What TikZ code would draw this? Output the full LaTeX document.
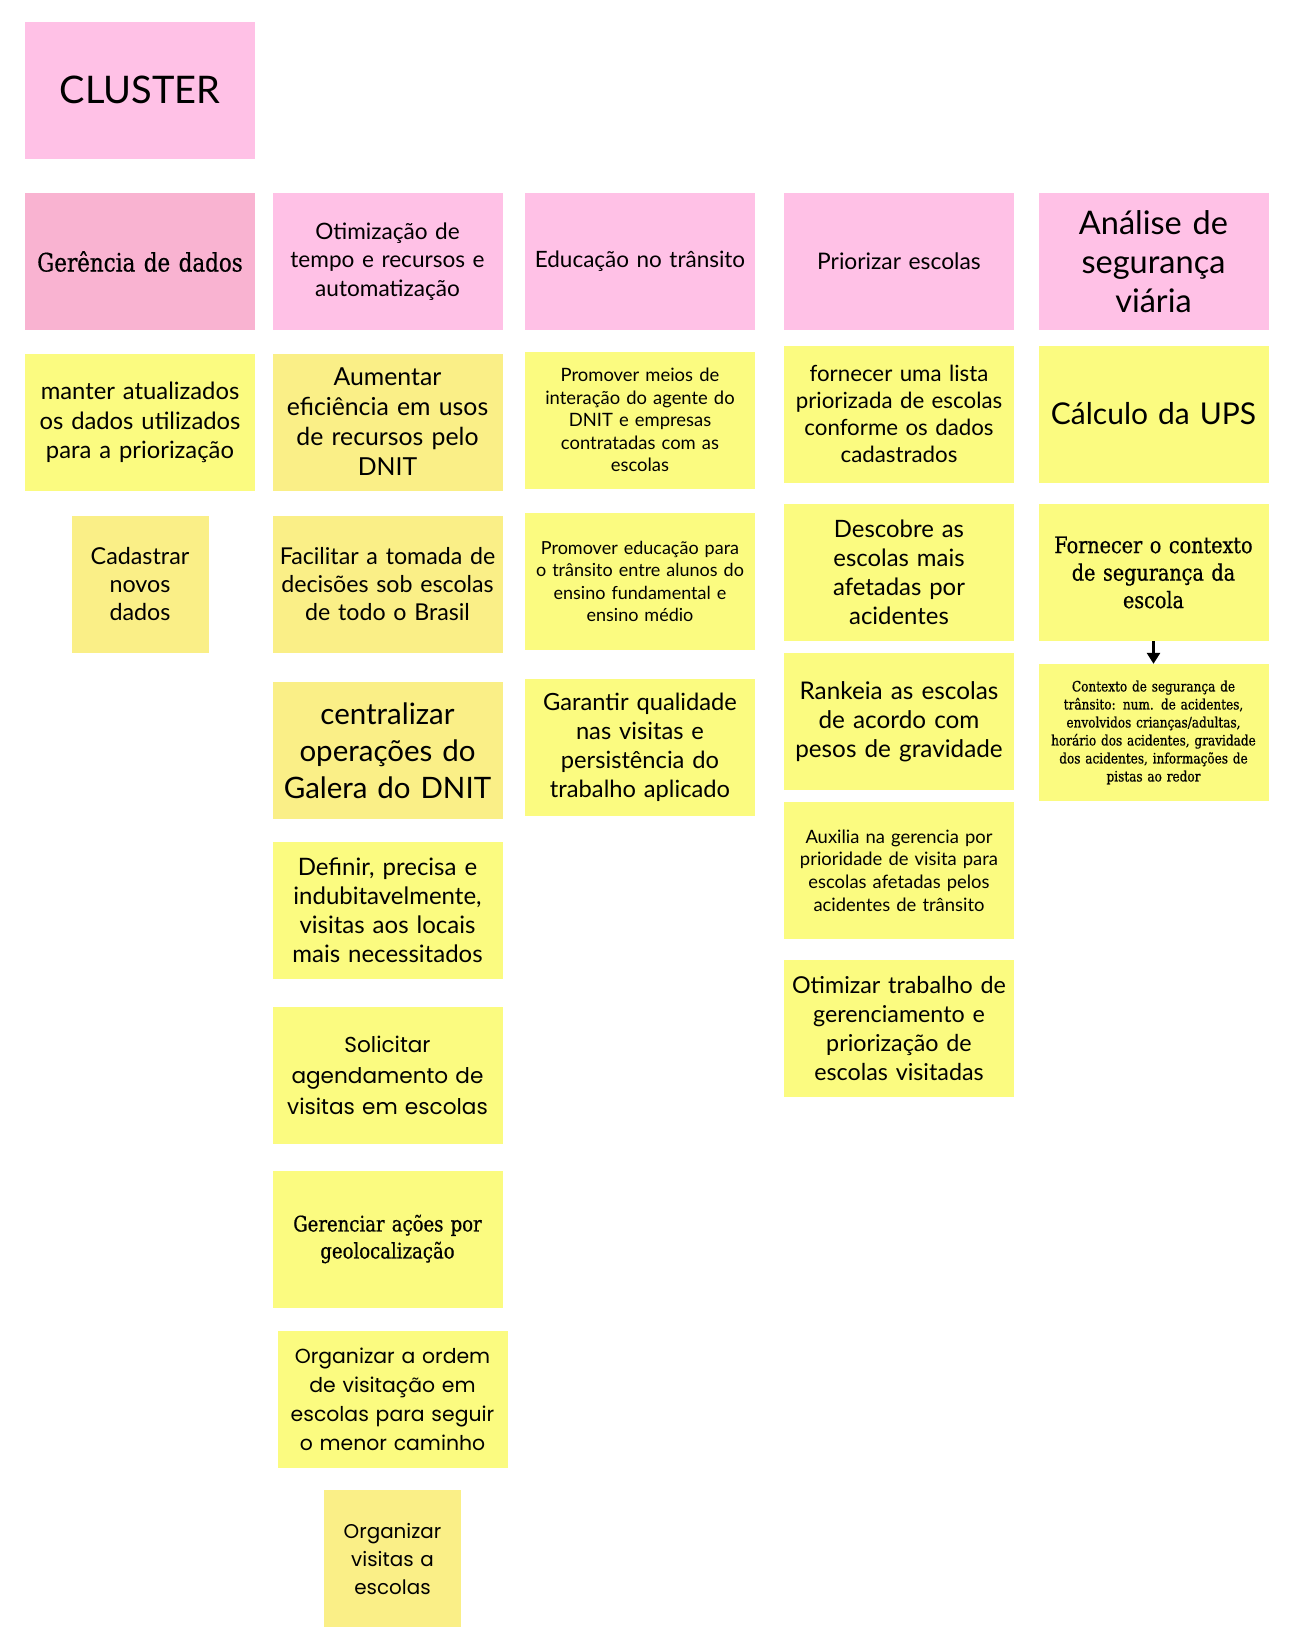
\documentclass[tikz,border=0pt]{standalone}
\usepackage{fontspec}
\setmainfont{Lato}
\newfontfamily\slabfont[FakeStretch=0.84, FakeBold=0.6]{DejaVu Serif}
\newfontfamily\widefont{Poppins}
\usetikzlibrary{arrows.meta}

\definecolor{headpink}{HTML}{FFC1E6}
\definecolor{datapink}{HTML}{F9B3D1}
\definecolor{notebright}{HTML}{FBFB80}
\definecolor{notemuted}{HTML}{FAEF87}

\tikzset{
  card/.style={rectangle, inner sep=0pt, align=center,
    minimum width=230pt, minimum height=137pt, text width=226pt},
  header/.style={card, fill=headpink},
  sticky/.style={card, fill=notebright},
  mutedsticky/.style={card, fill=notemuted},
  smallcard/.style={minimum width=137pt, text width=134pt}
}

\begin{document}
\begin{tikzpicture}[x=1pt, y=-1pt]
  \useasboundingbox[fill=white] (0,0) rectangle (1298,1650);

  % Title card
  \node[header, font=\fontsize{38}{44}\selectfont] (cluster) at (140,90) {CLUSTER};

  % Column headers
  \node[header, fill=datapink, font=\slabfont\fontsize{25.5}{30}\selectfont] (dados) at (140,261.5) {Gerência de dados};
  \node[header, font=\fontsize{22.6}{28.5}\selectfont] (otimiz) at (387.5,261.5) {Otimização de\\tempo e recursos e\\automatização};
  \node[header, font=\fontsize{22.5}{28}\selectfont] (educ) at (640,261.5) {Educação no trânsito};
  \node[header, font=\fontsize{22.8}{28}\selectfont] (prior) at (899,261.5) {Priorizar escolas};
  \node[header, font=\fontsize{32.5}{39}\selectfont] (analise) at (1153.5,261.5) {Análise de\\segurança\\viária};

  % 1. Gerencia de dados
  \node[sticky, font=\fontsize{23.8}{29.5}\selectfont] (manter) at (140,422.5) {manter atualizados\\os dados utilizados\\para a priorização};
  \node[mutedsticky, smallcard, font=\fontsize{23.3}{28}\selectfont] (cadastrar) at (140,584.5) {Cadastrar\\novos\\dados};

  % 2. Otimizacao de tempo e recursos
  \node[mutedsticky, font=\fontsize{24.8}{30}\selectfont] (aumentar) at (387.5,422) {Aumentar\\eficiência em usos\\de recursos pelo\\DNIT};
  \node[mutedsticky, font=\fontsize{23.2}{28}\selectfont] (facilitar) at (387.5,584.5) {Facilitar a tomada de\\decisões sob escolas\\de todo o Brasil};
  \node[mutedsticky, font=\fontsize{29.5}{37}\selectfont] (centralizar) at (387.5,750.5) {centralizar\\operações do\\Galera do DNIT};
  \node[sticky, font=\fontsize{24}{29}\selectfont] (definir) at (387.5,910.5) {Definir, precisa e\\indubitavelmente,\\visitas aos locais\\mais necessitados};
  \node[sticky, font=\widefont\fontsize{21.6}{31}\selectfont] (solicitar) at (387.5,1075.5) {Solicitar\\agendamento de\\visitas em escolas};
  \node[sticky, font=\slabfont\fontsize{21.5}{27}\selectfont] (gerenciar) at (387.5,1239) {Gerenciar ações por\\geolocalização};
  \node[sticky, font=\widefont\fontsize{20.4}{29}\selectfont] (ordem) at (392.5,1399) {Organizar a ordem\\de visitação em\\escolas para seguir\\o menor caminho};
  \node[mutedsticky, smallcard, font=\widefont\fontsize{19.9}{28}\selectfont] (visitas) at (392.5,1558.5) {Organizar\\visitas a\\escolas};

  % 3. Educacao no transito
  \node[sticky, font=\fontsize{18.4}{22.6}\selectfont] (interacao) at (640,420) {Promover meios de\\interação do agente do\\DNIT e empresas\\contratadas com as\\escolas};
  \node[sticky, font=\fontsize{18}{22.6}\selectfont] (promover) at (640,581.5) {Promover educação para\\o trânsito entre alunos do\\ensino fundamental e\\ensino médio};
  \node[sticky, font=\fontsize{23.7}{29}\selectfont] (garantir) at (640,747.5) {Garantir qualidade\\nas visitas e\\persistência do\\trabalho aplicado};

  % 4. Priorizar escolas
  \node[sticky, font=\fontsize{22.3}{27}\selectfont] (lista) at (899,414) {fornecer uma lista\\priorizada de escolas\\conforme os dados\\cadastrados};
  \node[sticky, font=\fontsize{23.9}{29}\selectfont] (descobre) at (899,572.5) {Descobre as\\escolas mais\\afetadas por\\acidentes};
  \node[sticky, font=\fontsize{24.3}{29}\selectfont] (rankeia) at (899,721.5) {Rankeia as escolas\\de acordo com\\pesos de gravidade};
  \node[sticky, font=\fontsize{18.4}{22.6}\selectfont] (auxilia) at (899,870.5) {Auxilia na gerencia por\\prioridade de visita para\\escolas afetadas pelos\\acidentes de trânsito};
  \node[sticky, font=\fontsize{23.3}{29}\selectfont] (otimizar) at (899,1028.5) {Otimizar trabalho de\\gerenciamento e\\priorização de\\escolas visitadas};

  % 5. Analise de seguranca viaria
  \node[sticky, font=\fontsize{30}{34}\selectfont] (ups) at (1153.5,414) {Cálculo da UPS};
  \node[sticky, font=\slabfont\fontsize{22.8}{27.5}\selectfont] (fornecer) at (1153.5,572.5) {Fornecer o contexto\\de segurança da\\escola};
  \node[sticky, font=\slabfont\fontsize{14.4}{18}\selectfont] (contexto) at (1153.5,732.5) {Contexto de segurança de\\trânsito: num. de acidentes,\\envolvidos crianças/adultas,\\horário dos acidentes, gravidade\\dos acidentes, informações de\\pistas ao redor};

  \draw[-{Triangle[length=11pt, width=13pt]}, line width=3pt] (fornecer) -- (contexto);
\end{tikzpicture}
\end{document}
